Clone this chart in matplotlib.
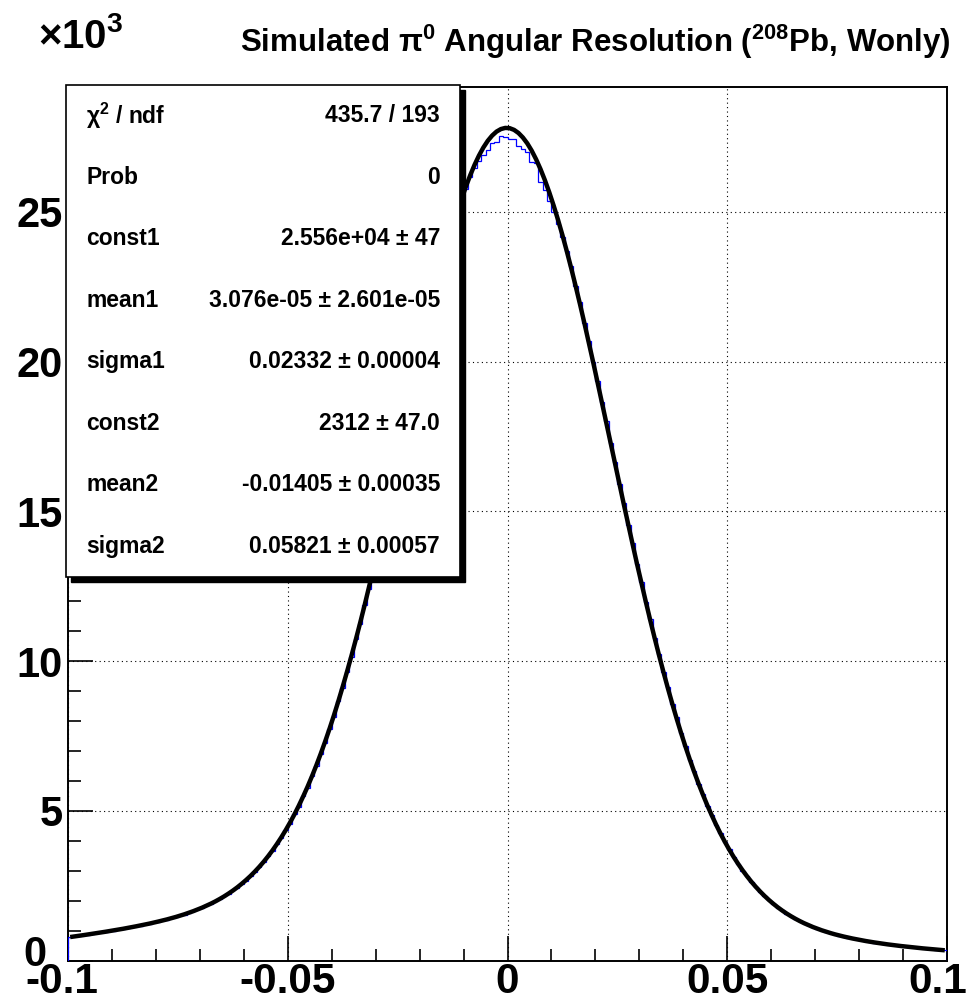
import numpy as np
import matplotlib.pyplot as plt
from matplotlib.patches import Rectangle
from matplotlib.transforms import ScaledTranslation

plt.rcParams['font.family'] = ['Liberation Sans', 'DejaVu Sans']
plt.rcParams['font.weight'] = 'bold'
plt.rcParams['mathtext.fontset'] = 'custom'
plt.rcParams['mathtext.rm'] = 'Liberation Sans'
plt.rcParams['mathtext.bf'] = 'Liberation Sans:bold'
plt.rcParams['mathtext.it'] = 'Liberation Sans:italic'
plt.rcParams['mathtext.default'] = 'bf'
plt.rcParams['axes.unicode_minus'] = False

# histogram: 200 bins from -0.1 to 0.1 (counts)
x_min, x_max = -0.1, 0.1
hist_counts = [
    785, 818, 826, 861, 869, 905, 912, 948, 958, 997,
    1006, 1045, 1058, 1099, 1113, 1155, 1170, 1214, 1231, 1279,
    1298, 1351, 1370, 1426, 1450, 1511, 1541, 1609, 1644, 1718,
    1760, 1843, 1893, 1986, 2047, 2153, 2226, 2347, 2432, 2572,
    2676, 2833, 2955, 3138, 3280, 3489, 3655, 3894, 4088, 4356,
    4580, 4885, 5142, 5487, 5775, 6158, 6486, 6911, 7277, 7744,
    8150, 8660, 9105, 9655, 10135, 10725, 11245, 11870, 12420, 13080,
    13660, 14350, 14950, 15660, 16270, 16990, 17610, 18330, 18950, 19660,
    20270, 20960, 21540, 22200, 22750, 23370, 23870, 24400, 24850, 25300,
    25750, 26150, 26450, 26700, 26900, 27050, 27300, 27350, 27550, 27500,
    27420, 27450, 27200, 27100, 27000, 26680, 26620, 26000, 25730, 25350,
    25000, 24600, 24150, 23700, 23180, 22540, 21980, 21300, 20700, 19990,
    19370, 18640, 18010, 17270, 16640, 15900, 15280, 14550, 13940, 13240,
    12650, 11980, 11410, 10770, 10240, 9640, 9140, 8580, 8120, 7610,
    7180, 6715, 6330, 5905, 5560, 5180, 4870, 4530, 4255, 3955,
    3715, 3450, 3240, 3010, 2830, 2630, 2475, 2300, 2168, 2018,
    1905, 1776, 1682, 1570, 1491, 1395, 1329, 1245, 1191, 1118,
    1073, 1010, 972, 917, 884, 837, 810, 767, 745, 708,
    687, 652, 636, 604, 591, 561, 549, 521, 512, 485,
    478, 453, 446, 422, 416, 394, 389, 367, 363, 342,
]

# fitted double gaussian, value at each bin centre
fit_values = [
    790, 810, 831, 853, 875, 897, 919, 942, 966, 990,
    1014, 1039, 1065, 1092, 1120, 1148, 1177, 1207, 1238, 1271,
    1306, 1342, 1378, 1418, 1459, 1503, 1550, 1600, 1653, 1710,
    1770, 1835, 1904, 1978, 2059, 2145, 2239, 2339, 2447, 2565,
    2691, 2826, 2973, 3130, 3299, 3482, 3677, 3887, 4111, 4350,
    4607, 4879, 5171, 5481, 5806, 6154, 6520, 6908, 7314, 7741,
    8189, 8658, 9148, 9656, 10183, 10729, 11294, 11876, 12475, 13088,
    13713, 14355, 15003, 15661, 16326, 16995, 17664, 18335, 19004, 19666,
    20322, 20964, 21596, 22211, 22806, 23379, 23928, 24451, 24943, 25404,
    25830, 26217, 26569, 26879, 27147, 27371, 27548, 27681, 27766, 27804,
    27795, 27738, 27634, 27483, 27288, 27045, 26758, 26431, 26061, 25655,
    25211, 24733, 24224, 23683, 23117, 22526, 21915, 21284, 20636, 19978,
    19306, 18629, 17945, 17259, 16576, 15893, 15214, 14543, 13882, 13227,
    12590, 11966, 11355, 10761, 10186, 9630, 9093, 8575, 8077, 7600,
    7144, 6709, 6296, 5902, 5530, 5176, 4846, 4531, 4235, 3958,
    3698, 3455, 3228, 3016, 2819, 2635, 2465, 2307, 2160, 2024,
    1899, 1782, 1675, 1576, 1485, 1401, 1323, 1251, 1186, 1124,
    1068, 1015, 968, 922, 880, 842, 806, 772, 741, 712,
    683, 657, 632, 609, 587, 566, 545, 526, 508, 490,
    474, 458, 442, 427, 412, 399, 385, 372, 359, 347,
]

stat_labels = ['χ$^{2}$ / ndf', 'Prob', 'const1', 'mean1', 'sigma1',
               'const2', 'mean2', 'sigma2']
stat_values = ['435.7 / 193', '0', '2.556e+04 ± 47', '3.076e-05 ± 2.601e-05',
               '0.02332 ± 0.00004', '2312 ± 47.0', '-0.01405 ± 0.00035',
               '0.05821 ± 0.00057']

x_ticks = [-0.1, -0.05, 0, 0.05, 0.1]
x_ticklabels = ['-0.1', '-0.05', '0', '0.05', '0.1']
y_ticks = [0, 5000, 10000, 15000, 20000, 25000]
y_ticklabels = ['0', '5', '10', '15', '20', '25']

W, H = 973, 1005
fig = plt.figure(figsize=(W / 100, H / 100), dpi=100)
ax = fig.add_axes([68 / W, 1 - 960.7 / H, (947 - 68) / W, (960.7 - 87) / H])

edges = np.linspace(x_min, x_max, len(hist_counts) + 1)
centers = 0.5 * (edges[:-1] + edges[1:])

ax.stairs(hist_counts, edges, color='#0000ff', lw=0.9, zorder=3)
ax.plot(centers, fit_values, color='black', lw=3.2, zorder=4,
        solid_capstyle='butt')

ax.set_xlim(x_min, x_max)
ax.set_ylim(0, 29170)

ax.set_xticks(x_ticks)
ax.set_xticklabels(x_ticklabels)
ax.set_yticks(y_ticks)
ax.set_yticklabels(y_ticklabels)
ax.set_xticks(np.arange(-0.1, 0.1001, 0.01), minor=True)
ax.set_yticks(np.arange(0, 29001, 1000), minor=True)

ax.tick_params(which='both', direction='in', top=False, right=False, width=1.2)
ax.tick_params(which='major', length=18)
ax.tick_params(which='minor', length=9)
ax.tick_params(axis='x', labelsize=30.5, pad=1)
ax.tick_params(axis='y', labelsize=30, pad=4)
for lab in ax.get_xticklabels() + ax.get_yticklabels():
    lab.set_fontweight('bold')

# nudge the outer labels a little, as in the original
xt = ax.xaxis.get_major_ticks()
xt[0].label1.set_transform(xt[0].label1.get_transform()
                           + ScaledTranslation(-0.06, 0, fig.dpi_scale_trans))
xt[-1].label1.set_transform(xt[-1].label1.get_transform()
                            + ScaledTranslation(-0.09, 0, fig.dpi_scale_trans))
yt = ax.yaxis.get_major_ticks()
yt[0].label1.set_transform(yt[0].label1.get_transform()
                           + ScaledTranslation(-0.16, 0.1, fig.dpi_scale_trans))

ax.grid(True, which='major', color='black', lw=0.8, linestyle=(0, (1, 3)))
for s in ax.spines.values():
    s.set_linewidth(1.4)

# title and exponent label
fig.text(951 / W, 1 - 52 / H,
         'Simulated π$^{0}$ Angular Resolution ($^{208}$Pb, Wonly)',
         ha='right', va='baseline', fontsize=22.5, fontweight='bold')
fig.text(38 / W, 1 - 48 / H, '×10$^{3}$', ha='left', va='baseline',
         fontsize=29, fontweight='bold')

# stats box with shadow
bx0, bx1, by0, by1 = 66, 460, 85, 577
sh = 5
fig.add_artist(Rectangle(((bx0 + sh) / W, 1 - (by1 + sh) / H),
                         (bx1 - bx0) / W, (by1 - by0) / H,
                         transform=fig.transFigure, facecolor='black',
                         edgecolor='black', zorder=5))
fig.add_artist(Rectangle((bx0 / W, 1 - by1 / H),
                         (bx1 - bx0) / W, (by1 - by0) / H,
                         transform=fig.transFigure, facecolor='white',
                         edgecolor='black', lw=1.2, zorder=6))
row_h = (by1 - by0) / len(stat_labels)
for i, (lab, val) in enumerate(zip(stat_labels, stat_values)):
    yc = by0 + row_h * (i + 0.5)
    fig.text(86 / W, 1 - yc / H, lab, ha='left', va='center',
             fontsize=16.5, fontweight='bold', zorder=7)
    fig.text(440 / W, 1 - yc / H, val, ha='right', va='center',
             fontsize=16.5, fontweight='bold', zorder=7)

fig.savefig('out.png', dpi=100)
